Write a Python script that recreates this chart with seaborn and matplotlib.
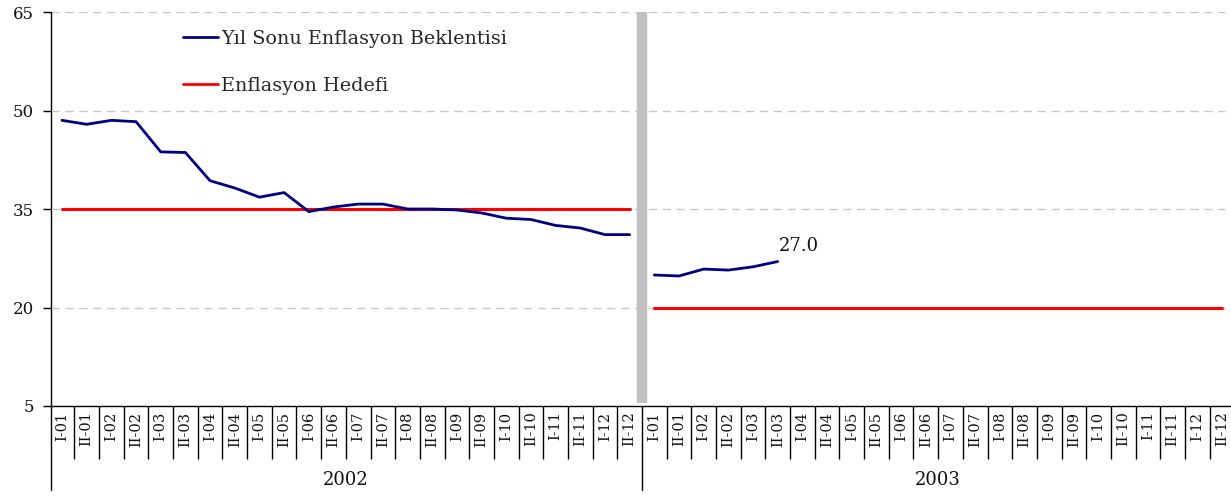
import numpy as np
import pandas as pd
import matplotlib
matplotlib.use("Agg")
import matplotlib.pyplot as plt
import seaborn as sns
from matplotlib.lines import Line2D
from matplotlib.transforms import blended_transform_factory

# ---- data ----
periods = ["I-01", "II-01", "I-02", "II-02", "I-03", "II-03", "I-04", "II-04",
           "I-05", "II-05", "I-06", "II-06", "I-07", "II-07", "I-08", "II-08",
           "I-09", "II-09", "I-10", "II-10", "I-11", "II-11", "I-12", "II-12"]
years = ["2002", "2003"]
expect_2002 = [48.5, 47.9, 48.5, 48.3, 43.7, 43.6, 39.3, 38.2, 36.8, 37.5, 34.6, 35.3,
               35.75, 35.75, 35.0, 35.0, 34.85, 34.4, 33.6, 33.4, 32.5, 32.1, 31.1, 31.1]
expect_2003 = [24.95, 24.8, 25.85, 25.7, 26.2, 27.0]
target_2002 = 35
target_2003 = 20
last_label = "27.0"
series_names = ["Yıl Sonu Enflasyon Beklentisi", "Enflasyon Hedefi"]
y_ticks = [5, 20, 35, 50, 65]

# ---- build frames ----
n = len(periods)
exp_df = pd.DataFrame({
    "x": list(range(len(expect_2002))) + list(range(n, n + len(expect_2003))),
    "value": expect_2002 + expect_2003,
    "year": ["2002"] * len(expect_2002) + ["2003"] * len(expect_2003),
})
tgt_df = pd.DataFrame({
    "x": list(range(2 * n)),
    "value": [target_2002] * n + [target_2003] * n,
    "year": ["2002"] * n + ["2003"] * n,
})

sns.set_theme(style="white")
plt.rcParams["font.family"] = ["DejaVu Serif"]

W, H = 1231, 496
ax_left_px, ax_right_px, ax_top_px, ax_bot_px = 51, 1231, 12, 406
fig = plt.figure(figsize=(W / 100, H / 100), dpi=100)
ax = fig.add_axes([ax_left_px / W, 1 - ax_bot_px / H,
                   (ax_right_px - ax_left_px) / W, (ax_bot_px - ax_top_px) / H])

blue = "#000080"
red = "#FF0000"

# grid
for yv in y_ticks[1:]:
    ax.axhline(yv, xmax=0.995, color="#C8C8C8", lw=1, ls=(0, (6, 4)), zorder=0)

# separator bar
ax.vlines(n - 0.5, 5.5, 65, colors="#C0C0C0", lw=7.5, zorder=1)

for yr in years:
    sns.lineplot(data=tgt_df[tgt_df.year == yr], x="x", y="value", color=red,
                 lw=2.2, ax=ax, legend=False, zorder=3)
    sns.lineplot(data=exp_df[exp_df.year == yr], x="x", y="value", color=blue,
                 lw=2.0, ax=ax, legend=False, zorder=4)

# label last point
ax.annotate(last_label, xy=(exp_df.x.iloc[-1], exp_df.value.iloc[-1]),
            xytext=(1, 5), textcoords="offset points", ha="left", va="bottom",
            fontsize=13, color="#111111")

xl = -0.4457
ax.set_xlim(xl, 47.365)
ax.set_ylim(5, 65)
ax.set_yticks(y_ticks)
ax.tick_params(axis="y", length=6, width=1, pad=6.5, labelsize=12, color="black",
               left=True, labelcolor="#111111")
ax.set_xticks(range(2 * n))
ax.set_xticklabels(periods * 2, rotation=90, fontsize=10.5, color="#111111")
ax.tick_params(axis="x", which="major", length=0, pad=4)
minor = [i - 0.5 for i in range(1, 2 * n) if i != n]
ax.set_xticks(minor, minor=True)
ax.tick_params(axis="x", which="minor", length=38, width=1, color="black",
               bottom=True)
ax.set_xlabel("")
ax.set_ylabel("")

for s in ["top", "right"]:
    ax.spines[s].set_visible(False)
for s in ["left", "bottom"]:
    ax.spines[s].set_color("black")
    ax.spines[s].set_linewidth(1)

# group separators and year labels
tr = blended_transform_factory(ax.transData, ax.transAxes)
axh = float(ax_bot_px - ax_top_px)
for xb in [xl, n - 0.5]:
    ax.plot([xb, xb], [0, -84 / axh], transform=tr, clip_on=False,
            color="black", lw=1)
for i, yr in enumerate(years):
    ax.text(i * n + (n - 1) / 2, -(480 - 406) / axh, yr, transform=tr,
            ha="center", va="center", fontsize=13, color="#111111")

handles = [Line2D([], [], color=blue, lw=2), Line2D([], [], color=red, lw=2)]
ax.legend(handles, series_names, loc="upper left",
          bbox_to_anchor=((183 - ax_left_px) / (ax_right_px - ax_left_px),
                          1 - (30 - ax_top_px) / axh),
          frameon=False, fontsize=13.8, handlelength=1.83, handletextpad=0.14,
          labelspacing=1.5, borderpad=0, borderaxespad=0)

fig.savefig("out.png", dpi=100)
